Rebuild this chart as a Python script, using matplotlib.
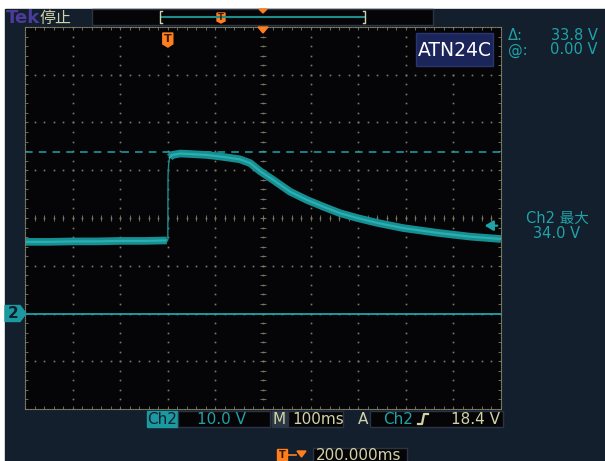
import numpy as np
import matplotlib.pyplot as plt
from matplotlib.patches import Rectangle, Polygon

plt.rcParams['font.family'] = ['DejaVu Sans', 'Noto Sans CJK SC']

# trace: time in ms (trigger = 0), volts on Ch2
t_pre = [-300, -250, -200, -150, -100, -50, -2]
v_pre = [15.0, 15.0, 15.1, 15.1, 15.2, 15.2, 15.3]
t_edge = [-2, 0, 0.5, 2, 4]
v_edge = [15.3, 15.4, 29.0, 31.5, 32.7]
t_post = [4, 9, 26, 47, 82, 116, 151, 173, 194, 221, 257, 292, 326, 362, 398,
          439, 494, 566, 635, 700]
v_post = [32.7, 33.2, 33.5, 33.4, 33.2, 32.8, 32.3, 31.5, 29.8, 28.0, 25.5, 23.8,
          22.4, 21.0, 20.0, 19.0, 17.9, 16.9, 16.1, 15.6]

cursor_a = 33.8
cursor_b = 0.0
trig_level = 18.4
trig_time = 0
t_range = (-300, 700)
v_range = (-20, 60)

navy = '#131f2d'
teal = '#1fa3a8'
beige = '#d2d2a8'
orange = '#ff7f1e'
grid = '#7d7d66'

fig = plt.figure(figsize=(6.05, 4.61), dpi=100, facecolor='white')

# background / frame layer in pixel coords
bg = fig.add_axes([0, 0, 1, 1], zorder=0)
bg.set_xlim(0, 605)
bg.set_ylim(461, 0)
bg.axis('off')
bg.add_patch(Rectangle((5, 9), 600, 452, color=navy))

bg.text(6, 18, 'Tek', color='#4b3c9c', fontsize=13, fontweight='bold', va='center')
bg.text(40, 18, '停止', color=beige, fontsize=11.5, va='center')

# record view bar
bg.add_patch(Rectangle((92, 9), 341, 16, facecolor='#050507', edgecolor='#2c3444', lw=1))
bg.plot([161, 365], [16.7, 16.7], color='#1d8c8c', lw=1.5)
bg.plot([162, 160, 160, 162], [11, 11, 23, 23], color=beige, lw=1)
bg.plot([363, 365, 365, 363], [11, 11, 23, 23], color=beige, lw=1)
bg.add_patch(Polygon([[217, 13], [225, 13], [225, 21], [221, 23], [217, 21]], color=orange))
bg.text(221, 17, 'T', color='#3a1a00', fontsize=6, fontweight='bold', ha='center', va='center')
bg.add_patch(Polygon([[259, 9], [267, 9], [263, 13]], color=orange))

# right panel readouts
bg.text(508, 35, 'Δ:', color=teal, fontsize=10.5, va='center')
bg.text(598, 35, '33.8 V', color=teal, fontsize=10.5, va='center', ha='right')
bg.text(508, 50, '@:', color=teal, fontsize=10.5, va='center')
bg.text(598, 50, '0.00 V', color=teal, fontsize=10.5, va='center', ha='right')
bg.text(557, 218, 'Ch2 最大', color=teal, fontsize=10.5, va='center', ha='center')
bg.text(557, 233, '34.0 V', color=teal, fontsize=10.5, va='center', ha='center')

# bottom status bar
bg.add_patch(Rectangle((147, 411), 31, 16, color='#1a9aa0'))
bg.text(162.5, 419, 'Ch2', color=navy, fontsize=11, ha='center', va='center')
bg.add_patch(Rectangle((178, 411), 92, 16, facecolor='#050507', edgecolor='#2c3444'))
bg.text(197, 419, '10.0 V', color=teal, fontsize=11, va='center')
bg.add_patch(Rectangle((272, 411), 15, 16, color='#2c3846'))
bg.text(279.5, 419, 'M', color=beige, fontsize=11, ha='center', va='center')
bg.add_patch(Rectangle((288, 411), 55, 16, facecolor='#050507', edgecolor='#2c3444'))
bg.text(292, 419, '100ms', color=beige, fontsize=11, va='center')
bg.text(363, 419, 'A', color=beige, fontsize=11, ha='center', va='center')
bg.add_patch(Rectangle((370, 411), 133, 16, facecolor='#050507', edgecolor='#2c3444'))
bg.text(383, 419, 'Ch2', color=teal, fontsize=11, va='center')
bg.plot([418, 422, 424, 428], [424, 424, 414, 414], color=beige, lw=1.6)
bg.text(500, 419, '18.4 V', color=beige, fontsize=11, ha='right', va='center')

bg.add_patch(Polygon([[277, 449], [287, 449], [287, 461], [277, 461]], color=orange))
bg.text(282, 455, 'T', color='#3a1a00', fontsize=7, fontweight='bold', ha='center', va='center')
bg.plot([288, 296], [455, 455], color=orange, lw=1.2)
bg.add_patch(Polygon([[297, 451], [306, 451], [301.5, 457]], color=orange))
bg.add_patch(Rectangle((313, 448), 94, 14, facecolor='#050507', edgecolor='#2c3444'))
bg.text(316, 455, '200.000ms', color=beige, fontsize=11, va='center')

# graticule
ax = fig.add_axes([25 / 605, (461 - 409) / 461, 476 / 605, 382 / 461], zorder=1)
ax.set_facecolor('#050507')
ax.set_xlim(*t_range)
ax.set_ylim(*v_range)
ax.set_xticks([])
ax.set_yticks([])
for s in ax.spines.values():
    s.set_color(grid)
    s.set_linewidth(0.8)
    s.set_linestyle((0, (1, 1.2)))

xs_major = np.arange(t_range[0], t_range[1] + 1, 100)
ys_major = np.arange(v_range[0], v_range[1] + 1, 10)
xs_minor = np.arange(t_range[0], t_range[1] + 1, 20)
ys_minor = np.arange(v_range[0], v_range[1] + 1, 2)
for x in xs_major[1:-1]:
    ax.plot([x] * len(ys_minor), ys_minor, ls='none', marker='s', ms=1.2, mew=0, color=grid)
for y in ys_major[1:-1]:
    ax.plot(xs_minor, [y] * len(xs_minor), ls='none', marker='s', ms=1.2, mew=0, color=grid)
xc = (t_range[0] + t_range[1]) / 2
yc = (v_range[0] + v_range[1]) / 2
ax.plot([xc] * len(ys_minor), ys_minor, ls='none', marker='_', ms=4.5, mew=0.6, color=grid)
ax.plot(xs_minor, [yc] * len(xs_minor), ls='none', marker='|', ms=4.5, mew=0.6, color=grid)
for yb in v_range:
    ax.plot(xs_minor, [yb] * len(xs_minor), ls='none', marker='|', ms=4, mew=0.6, color=grid)
for xb in t_range:
    ax.plot([xb] * len(ys_minor), ys_minor, ls='none', marker='_', ms=4, mew=0.6, color=grid)

# cursors
ax.axhline(cursor_a, color=teal, lw=1.1, ls=(0, (5, 4)))
ax.axhline(cursor_b, color=teal, lw=1.3)

# waveform
ax.plot(t_pre, v_pre, color='#178f92', lw=5.5, solid_capstyle='butt')
ax.plot(t_pre, v_pre, color='#2bb0b2', lw=1.5)
ax.plot(t_edge, v_edge, color='#1a8a8c', lw=1)
ax.plot(t_post, v_post, color='#178f92', lw=5.5, solid_capstyle='butt')
ax.plot(t_post, v_post, color='#2bb0b2', lw=1.5)

# trigger level arrow
ax.annotate('', xy=(660, trig_level), xytext=(698, trig_level),
            arrowprops=dict(arrowstyle='-|>,head_length=0.5,head_width=0.3',
                            color=teal, lw=1.6))

# markers layer on top of the graticule
top = fig.add_axes([0, 0, 1, 1], zorder=2)
top.set_xlim(0, 605)
top.set_ylim(461, 0)
top.axis('off')
top.patch.set_alpha(0)

tx = 25 + (trig_time - t_range[0]) / (t_range[1] - t_range[0]) * 476
top.add_patch(Polygon([[tx - 5, 33], [tx + 5, 33], [tx + 5, 44], [tx, 47], [tx - 5, 44]], color=orange))
top.text(tx, 39.5, 'T', color='#3a1a00', fontsize=8, fontweight='bold', ha='center', va='center')
top.add_patch(Polygon([[258, 27], [268, 27], [263, 33]], color=orange))

top.add_patch(Rectangle((416, 33), 77, 33, facecolor='#1b2559', edgecolor='#2a3570'))
top.text(454.5, 50, 'ATN24C', color='white', fontsize=13.5, ha='center', va='center')

gy = 409 - (cursor_b - v_range[0]) / (v_range[1] - v_range[0]) * 382
top.add_patch(Polygon([[5, gy - 8], [20, gy - 8], [26, gy], [20, gy + 8], [5, gy + 8]], color='#1a9aa0'))
top.text(13, gy, '2', color=navy, fontsize=11, fontweight='bold', ha='center', va='center')

fig.savefig('out.png', dpi=100, facecolor='white')
